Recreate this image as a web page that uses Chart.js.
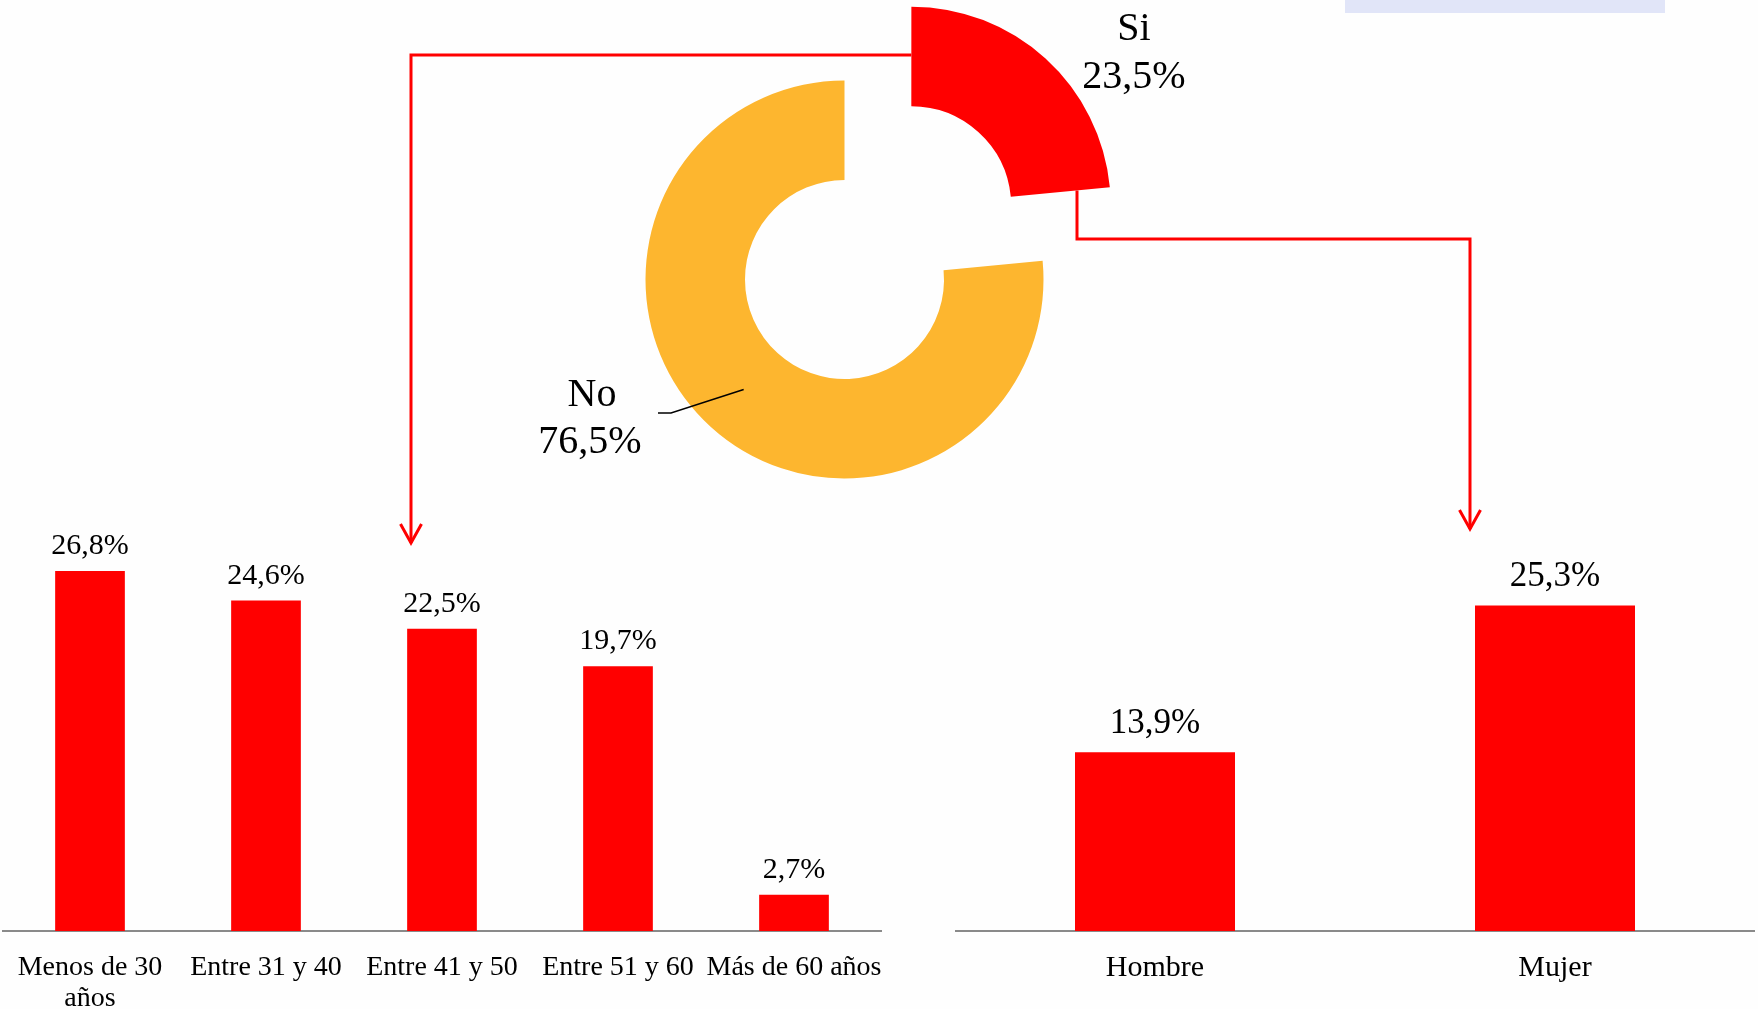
<!DOCTYPE html>
<html lang="es">
<head>
<meta charset="utf-8">
<title>Si / No por edad y sexo</title>
<script src="https://cdn.jsdelivr.net/npm/chart.js@4.4.1/dist/chart.umd.min.js"></script>
<style>
    html, body { margin: 0; padding: 0; background: #fefefe; }
    body { position: relative; width: 1758px; height: 1009px; overflow: hidden; }
    canvas { position: absolute; top: 0; }
    #ageChart { left: 2px; }
    #sexChart { left: 955px; }
    #ringChart { left: 0; pointer-events: none; }
    .tab { position: absolute; left: 1345px; top: 0; width: 320px; height: 13px; background: #e1e5f8; }
</style>
</head>
<body>
<div class="tab"></div>
<canvas id="ageChart" width="880" height="1009"></canvas>
<canvas id="sexChart" width="800" height="1009"></canvas>
<canvas id="ringChart" width="1758" height="1009"></canvas>
<script>
const RED = '#ff0000';
const GOLD = '#fdb62f';
const FONT = '"Liberation Serif", "Times New Roman", serif';

const answerLabels = ['Si', 'No'];
const answerValues = [23.5, 76.5];

const ageLabels = [['Menos de 30', 'años'], 'Entre 31 y 40', 'Entre 41 y 50', 'Entre 51 y 60', 'Más de 60 años'];
const ageValues = [26.8, 24.6, 22.5, 19.7, 2.7];

const sexLabels = ['Hombre', 'Mujer'];
const sexValues = [13.9, 25.3];

function pct(value) {
    return value.toFixed(1).replace('.', ',') + '%';
}

// percentage written above every bar
const barValueLabels = {
    id: 'barValueLabels',
    afterDatasetsDraw(chart, args, opts) {
        const { ctx } = chart;
        const values = chart.data.datasets[0].data;
        ctx.save();
        ctx.font = `${opts.size}px ${FONT}`;
        ctx.fillStyle = '#000';
        ctx.textAlign = 'center';
        ctx.textBaseline = 'alphabetic';
        chart.getDatasetMeta(0).data.forEach((bar, i) => {
            ctx.fillText(pct(values[i]), bar.x, bar.y - opts.gap);
        });
        ctx.restore();
    }
};

function createBarChart(canvas, labels, values, { top, barPercentage, valueSize, valueGap, tickSize, tickPadding }) {
    return new Chart(canvas, {
        type: 'bar',
        data: {
            labels,
            datasets: [{
                data: values,
                backgroundColor: RED,
                borderWidth: 0,
                barPercentage,
                categoryPercentage: 1
            }]
        },
        options: {
            responsive: false,
            animation: false,
            layout: { padding: { top, left: 0, right: 0, bottom: 0 } },
            plugins: {
                legend: { display: false },
                tooltip: { enabled: false },
                barValueLabels: { size: valueSize, gap: valueGap }
            },
            scales: {
                x: {
                    grid: { display: false, drawTicks: false },
                    border: { display: true, color: '#8a8a8a', width: 2 },
                    ticks: {
                        color: '#000',
                        font: { family: FONT, size: tickSize, lineHeight: 1.1 },
                        padding: tickPadding,
                        maxRotation: 0,
                        autoSkip: false
                    },
                    // long edge labels may spill past the axis ends, keep full width
                    afterFit: (scale) => {
                        scale.height = 78;
                        scale.paddingLeft = 0;
                        scale.paddingRight = 0;
                    }
                },
                y: { display: false, min: 0, max: 30 }
            }
        },
        plugins: [barValueLabels]
    });
}

createBarChart(document.getElementById('ageChart'), ageLabels, ageValues, {
    top: 528, barPercentage: 0.396, valueSize: 30, valueGap: 17, tickSize: 28, tickPadding: 21
});

createBarChart(document.getElementById('sexChart'), sexLabels, sexValues, {
    top: 545, barPercentage: 0.4, valueSize: 35, valueGap: 19, tickSize: 30, tickPadding: 21
});

function arrowLine(ctx, points) {
    ctx.beginPath();
    ctx.moveTo(points[0][0], points[0][1]);
    points.slice(1).forEach(([px, py]) => ctx.lineTo(px, py));
    ctx.stroke();
    const [tx, ty] = points[points.length - 1];
    ctx.beginPath();
    ctx.moveTo(tx - 10.5, ty - 19);
    ctx.lineTo(tx, ty);
    ctx.lineTo(tx + 10.5, ty - 19);
    ctx.stroke();
}

// slice labels, leader line and the arrows running down to the bar charts
const ringDecor = {
    id: 'ringDecor',
    afterDraw(chart) {
        const { ctx } = chart;
        const [si, no] = chart.getDatasetMeta(0).data;
        const mid = (si.startAngle + si.endAngle) / 2;
        const shift = (si.options.offset || 0) / 4;
        const cx = si.x + Math.cos(mid) * shift;
        const cy = si.y + Math.sin(mid) * shift;

        ctx.save();
        ctx.strokeStyle = RED;
        ctx.lineWidth = 3;
        ctx.lineJoin = 'miter';
        arrowLine(ctx, [[cx, 55], [411, 55], [411, 543]]);
        const dropX = 1077;
        const dropY = cy + Math.tan(si.endAngle) * (dropX - cx);
        arrowLine(ctx, [[dropX, dropY], [dropX, 239], [1470, 239], [1470, 529]]);

        // leader from the middle of the "No" ring
        const rMid = (no.innerRadius + no.outerRadius) / 2;
        const a = 132.5 * Math.PI / 180;
        ctx.strokeStyle = '#000';
        ctx.lineWidth = 1.5;
        ctx.beginPath();
        ctx.moveTo(no.x + Math.cos(a) * rMid, no.y + Math.sin(a) * rMid);
        ctx.lineTo(671, 413);
        ctx.lineTo(658, 413);
        ctx.stroke();

        ctx.fillStyle = '#000';
        ctx.font = `40px ${FONT}`;
        ctx.textAlign = 'center';
        ctx.textBaseline = 'alphabetic';
        ctx.fillText(answerLabels[0], 1134, 40);
        ctx.fillText(pct(answerValues[0]), 1134, 88);
        ctx.fillText(answerLabels[1], 592, 406);
        ctx.fillText(pct(answerValues[1]), 590, 453);
        ctx.restore();
    }
};

new Chart(document.getElementById('ringChart'), {
    type: 'doughnut',
    data: {
        labels: answerLabels,
        datasets: [{
            data: answerValues,
            backgroundColor: [RED, GOLD],
            borderWidth: 0,
            offset: [397, 0]
        }]
    },
    options: {
        responsive: false,
        animation: false,
        radius: 199,
        cutout: '50%',
        layout: { padding: { left: 0, right: 69, top: 0, bottom: 450 } },
        plugins: {
            legend: { display: false },
            tooltip: { enabled: false }
        }
    },
    plugins: [ringDecor]
});
</script>
</body>
</html>
